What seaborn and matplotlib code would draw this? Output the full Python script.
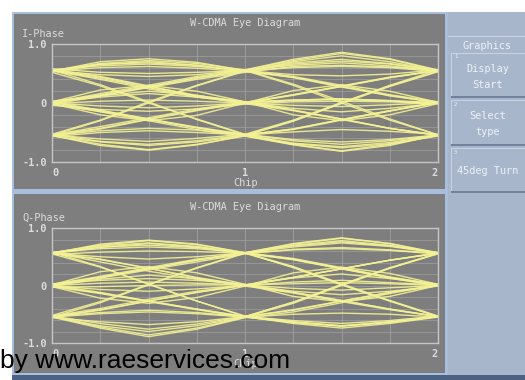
import matplotlib
matplotlib.use("Agg")
import matplotlib.pyplot as plt
from matplotlib.patches import Rectangle
import pandas as pd
import seaborn as sns

W, H = 525, 380

# sample positions along the two-chip window
chip_pos = [0.0, 0.25, 0.5, 0.75, 1.0, 1.25, 1.5, 1.75, 2.0]
x_ticks = [0, 1, 2]
x_tick_labels = ["0", "1", "2"]
y_ticks = [-1.0, 0.0, 1.0]
y_tick_labels = ["-1.0", "0", "1.0"]
menu_title = "Graphics"
menu_keys = [("1", "Display\nStart"), ("2", "Select\ntype"), ("3", "45deg Turn")]

# I-phase traces, one row per sweep, sampled at chip_pos
i_traces = [
    [0.55, 0.67, 0.72, 0.67, 0.56, 0.74, 0.86, 0.75, 0.56],
    [0.53, 0.65, 0.70, 0.64, 0.54, 0.70, 0.80, 0.70, 0.55],
    [0.56, 0.63, 0.66, 0.62, 0.55, 0.64, 0.68, 0.63, 0.54],
    [0.54, 0.60, 0.62, 0.59, 0.53, 0.44, 0.28, 0.12, 0.01],
    [0.55, 0.44, 0.28, 0.13, 0.01, 0.14, 0.29, 0.44, 0.55],
    [0.57, 0.45, 0.29, 0.12, -0.01, -0.13, -0.28, -0.43, -0.55],
    [0.54, 0.42, 0.26, 0.11, 0.02, 0.05, 0.07, 0.04, 0.01],
    [0.56, 0.31, 0.02, -0.28, -0.54, -0.68, -0.74, -0.67, -0.55],
    [0.52, 0.29, 0.00, -0.27, -0.53, -0.29, 0.01, 0.29, 0.54],
    [0.55, 0.48, 0.45, 0.48, 0.56, 0.32, 0.03, -0.27, -0.54],
    [0.58, 0.52, 0.50, 0.52, 0.55, 0.48, 0.46, 0.49, 0.56],
    [0.54, 0.70, 0.75, 0.69, 0.55, 0.45, 0.30, 0.14, 0.02],
    [0.55, 0.40, 0.24, 0.10, 0.00, -0.04, -0.06, -0.03, 0.01],
    [0.01, 0.14, 0.28, 0.43, 0.55, 0.66, 0.71, 0.66, 0.55],
    [0.02, 0.13, 0.27, 0.42, 0.54, 0.43, 0.27, 0.13, 0.00],
    [-0.01, 0.03, 0.05, 0.03, 0.00, 0.04, 0.06, 0.03, 0.00],
    [0.00, 0.10, 0.16, 0.10, 0.01, -0.09, -0.15, -0.09, 0.00],
    [0.01, -0.12, -0.27, -0.42, -0.54, -0.44, -0.28, -0.13, 0.01],
    [-0.02, -0.14, -0.28, -0.42, -0.55, -0.69, -0.76, -0.69, -0.56],
    [0.00, -0.05, -0.08, -0.05, 0.00, 0.13, 0.28, 0.43, 0.55],
    [0.03, 0.12, 0.20, 0.13, 0.02, -0.12, -0.27, -0.43, -0.54],
    [-0.04, -0.11, -0.14, -0.10, -0.02, 0.02, 0.03, 0.02, -0.01],
    [0.01, 0.16, 0.30, 0.45, 0.56, 0.72, 0.84, 0.74, 0.55],
    [-0.01, -0.15, -0.30, -0.45, -0.56, -0.71, -0.82, -0.72, -0.54],
    [0.02, 0.22, 0.30, 0.20, 0.02, -0.20, -0.30, -0.20, -0.01],
    [-0.01, -0.20, -0.30, -0.21, 0.00, 0.21, 0.31, 0.20, 0.01],
    [-0.55, -0.70, -0.79, -0.70, -0.56, -0.70, -0.81, -0.70, -0.55],
    [-0.53, -0.65, -0.70, -0.64, -0.54, -0.44, -0.28, -0.13, 0.00],
    [-0.54, -0.43, -0.27, -0.12, 0.00, 0.14, 0.28, 0.43, 0.55],
    [-0.56, -0.44, -0.28, -0.13, 0.01, -0.12, -0.27, -0.43, -0.55],
    [-0.55, -0.30, 0.00, 0.29, 0.54, 0.68, 0.74, 0.67, 0.55],
    [-0.53, -0.29, 0.02, 0.30, 0.55, 0.30, 0.00, -0.29, -0.54],
    [-0.55, -0.47, -0.43, -0.46, -0.55, -0.30, -0.01, 0.28, 0.53],
    [-0.54, -0.61, -0.65, -0.60, -0.53, -0.64, -0.70, -0.64, -0.55],
    [-0.57, -0.50, -0.47, -0.50, -0.54, -0.49, -0.45, -0.48, -0.53],
    [-0.55, -0.72, -0.80, -0.71, -0.55, -0.45, -0.29, -0.14, 0.02],
    [-0.54, -0.40, -0.25, -0.10, 0.01, 0.05, 0.07, 0.04, -0.01],
    [0.55, 0.66, 0.68, 0.64, 0.54, 0.60, 0.62, 0.60, 0.53],
    [-0.02, 0.12, 0.26, 0.40, 0.52, 0.62, 0.64, 0.61, 0.56],
    [0.02, -0.13, -0.27, -0.41, -0.53, -0.62, -0.66, -0.62, -0.54],
    [-0.56, -0.66, -0.72, -0.66, -0.55, -0.31, 0.00, 0.30, 0.56],
]

# Q-phase traces, one row per sweep, sampled at chip_pos
q_traces = [
    [0.57, 0.70, 0.78, 0.71, 0.57, 0.72, 0.82, 0.73, 0.57],
    [0.55, 0.66, 0.73, 0.67, 0.56, 0.67, 0.74, 0.68, 0.56],
    [0.58, 0.64, 0.67, 0.64, 0.57, 0.46, 0.30, 0.14, 0.02],
    [0.56, 0.45, 0.30, 0.14, 0.01, 0.14, 0.29, 0.44, 0.57],
    [0.57, 0.46, 0.30, 0.13, -0.01, -0.13, -0.28, -0.42, -0.54],
    [0.55, 0.32, 0.03, -0.27, -0.53, -0.63, -0.70, -0.64, -0.54],
    [0.58, 0.33, 0.02, -0.27, -0.54, -0.29, 0.02, 0.31, 0.56],
    [0.56, 0.50, 0.46, 0.50, 0.57, 0.33, 0.03, -0.26, -0.53],
    [0.54, 0.58, 0.60, 0.59, 0.56, 0.45, 0.29, 0.13, -0.01],
    [0.56, 0.72, 0.79, 0.72, 0.57, 0.47, 0.31, 0.15, 0.01],
    [0.57, 0.41, 0.25, 0.11, 0.00, 0.06, 0.09, 0.05, 0.01],
    [0.00, 0.14, 0.29, 0.44, 0.57, 0.69, 0.76, 0.69, 0.57],
    [0.02, 0.14, 0.29, 0.44, 0.56, 0.45, 0.29, 0.14, 0.01],
    [0.00, 0.04, 0.06, 0.04, 0.01, 0.03, 0.05, 0.03, 0.00],
    [-0.01, 0.11, 0.18, 0.12, 0.01, -0.10, -0.16, -0.10, -0.01],
    [0.01, -0.12, -0.27, -0.41, -0.54, -0.42, -0.27, -0.12, 0.01],
    [-0.02, -0.14, -0.28, -0.42, -0.55, -0.64, -0.70, -0.63, -0.54],
    [0.00, -0.07, -0.10, -0.06, 0.00, 0.14, 0.29, 0.44, 0.56],
    [0.03, 0.09, 0.12, 0.09, 0.02, -0.12, -0.26, -0.41, -0.54],
    [-0.03, -0.02, 0.00, 0.01, 0.01, 0.13, 0.20, 0.12, 0.02],
    [0.01, 0.24, 0.33, 0.22, 0.02, -0.19, -0.28, -0.19, 0.00],
    [-0.02, -0.22, -0.31, -0.21, -0.01, 0.22, 0.32, 0.21, 0.02],
    [0.02, 0.16, 0.31, 0.46, 0.57, 0.73, 0.83, 0.73, 0.56],
    [-0.54, -0.72, -0.86, -0.74, -0.55, -0.64, -0.71, -0.64, -0.54],
    [-0.53, -0.66, -0.76, -0.67, -0.54, -0.43, -0.27, -0.12, 0.00],
    [-0.55, -0.43, -0.27, -0.12, 0.01, 0.14, 0.29, 0.44, 0.56],
    [-0.54, -0.42, -0.27, -0.12, 0.00, -0.12, -0.26, -0.41, -0.54],
    [-0.55, -0.30, 0.01, 0.30, 0.56, 0.70, 0.78, 0.70, 0.57],
    [-0.52, -0.28, 0.02, 0.31, 0.57, 0.31, 0.01, -0.27, -0.54],
    [-0.54, -0.47, -0.43, -0.47, -0.54, -0.29, 0.01, 0.30, 0.56],
    [-0.56, -0.63, -0.68, -0.63, -0.54, -0.61, -0.66, -0.61, -0.53],
    [-0.55, -0.49, -0.46, -0.49, -0.55, -0.50, -0.48, -0.50, -0.55],
    [-0.55, -0.74, -0.89, -0.76, -0.56, -0.46, -0.30, -0.14, 0.01],
    [-0.53, -0.40, -0.24, -0.10, 0.01, -0.05, -0.08, -0.04, 0.00],
    [0.56, 0.67, 0.70, 0.66, 0.56, 0.62, 0.64, 0.61, 0.55],
    [0.01, 0.13, 0.27, 0.41, 0.55, 0.63, 0.66, 0.62, 0.56],
    [-0.01, -0.13, -0.27, -0.41, -0.54, -0.66, -0.74, -0.66, -0.55],
    [0.57, 0.69, 0.74, 0.68, 0.56, 0.32, 0.02, -0.27, -0.54],
    [-0.54, -0.70, -0.80, -0.70, -0.55, -0.31, 0.00, 0.30, 0.55],
]

PANEL = "#7e7e7e"
FRAME = "#a9bddc"
MENU = "#a8b6cc"
BTN_LIGHT = "#c9d3e4"
BTN_DARK = "#72829c"
STRIP = "#4c6282"
TRACE = "#f4f294"
TEXT = "#dcdcdc"
MENU_TEXT = "#eef2f8"
BOX = "#c6c6c6"
GRID = "#a0a0a0"
MONO = "DejaVu Sans Mono"

sns.set_theme(style="white")
plt.rcParams["font.family"] = ["DejaVu Sans Mono", "DejaVu Sans"]

fig = plt.figure(figsize=(W / 100, H / 100), dpi=100)
fig.patch.set_facecolor("white")


def fx(px):
    return px / W


def fy(py):
    return 1 - py / H


def block(x0, y0, x1, y1, color, z=-10):
    fig.patches.append(Rectangle((fx(x0), fy(y1)), (x1 - x0) / W, (y1 - y0) / H,
                                 transform=fig.transFigure, facecolor=color,
                                 edgecolor="none", zorder=z))


# instrument frame, screen panels and soft-key column
block(12, 12, 525, 380, FRAME, -12)
block(12, 375, 525, 380, STRIP, -11)
block(14, 14, 445, 189, PANEL)
block(14, 194, 445, 373, PANEL)
block(448, 12, 525, 375, MENU)
block(448, 36, 525, 37, BTN_LIGHT, -9)

fig.text(fx(487), fy(46), menu_title, ha="center", va="center", fontsize=7.4,
         family=MONO, color=MENU_TEXT)
button_rows = [(53, 98), (100, 146), (148, 193)]
for (num, label), (top, bot) in zip(menu_keys, button_rows):
    block(451, top, 525, bot, MENU, -9)
    block(451, top, 525, top + 1, BTN_LIGHT, -8)
    block(451, top, 452, bot, BTN_LIGHT, -8)
    block(451, bot - 2, 525, bot, BTN_DARK, -8)
    fig.text(fx(454), fy(top + 4), num, ha="left", va="center", fontsize=4,
             family=MONO, color=MENU_TEXT)
    fig.text(fx(488), fy((top + bot) / 2 + 1), label, ha="center", va="center",
             fontsize=7.4, family=MONO, color=MENU_TEXT, linespacing=1.75)


def long_form(traces):
    rows = []
    for k, trace in enumerate(traces):
        for x, v in zip(chip_pos, trace):
            rows.append({"chip": x, "level": v, "sweep": k})
    return pd.DataFrame(rows)


def eye_panel(top, bot, traces, name):
    ax = fig.add_axes([fx(52), fy(bot), (438 - 52) / W, (bot - top) / H])
    ax.set_facecolor(PANEL)
    ax.patch.set_alpha(0)
    sns.lineplot(data=long_form(traces), x="chip", y="level", units="sweep",
                 estimator=None, sort=False, color=TRACE, lw=1.0, alpha=0.9,
                 ax=ax, legend=False)
    ax.set_xlim(0, 2)
    ax.set_ylim(-1, 1)
    for gx in [0.25 * i for i in range(1, 8)]:
        ax.axvline(gx, color=GRID, lw=0.6, zorder=0)
    for gy in [-0.8, -0.6, -0.4, -0.2, 0.0, 0.2, 0.4, 0.6, 0.8]:
        ax.axhline(gy, color=GRID, lw=0.5, zorder=0)
    for s in ax.spines.values():
        s.set_color(BOX)
        s.set_linewidth(1.0)
        s.set_visible(True)
    ax.set_xticks(x_ticks, x_tick_labels)
    ax.set_yticks(y_ticks, y_tick_labels)
    ax.tick_params(length=0, colors=TEXT, labelsize=7.4, pad=3.8)
    ax.tick_params(axis="x", pad=4.5)
    xl = ax.get_xticklabels()
    xl[0].set_ha("left")
    xl[-1].set_ha("right")
    for t in ax.get_xticklabels() + ax.get_yticklabels():
        t.set_family(MONO)
        t.set_fontweight("bold")
    ax.set_xlabel("Chip", color=TEXT, fontsize=7.4, family=MONO, labelpad=0)
    ax.set_ylabel("")
    ax.set_title("W-CDMA Eye Diagram", color=TEXT, fontsize=7.4, family=MONO,
                 pad=13)
    fig.text(fx(22), fy(top - 10), name, ha="left", va="center", fontsize=7.4,
             family=MONO, color=TEXT)
    return ax


eye_panel(44, 162, i_traces, "I-Phase")
eye_panel(228, 343, q_traces, "Q-Phase")

fig.text(fx(0), fy(368), "by www.raeservices.com", ha="left", va="baseline",
         fontsize=19, family="Liberation Sans", color="black", zorder=20)

fig.savefig("out.png", dpi=100)
